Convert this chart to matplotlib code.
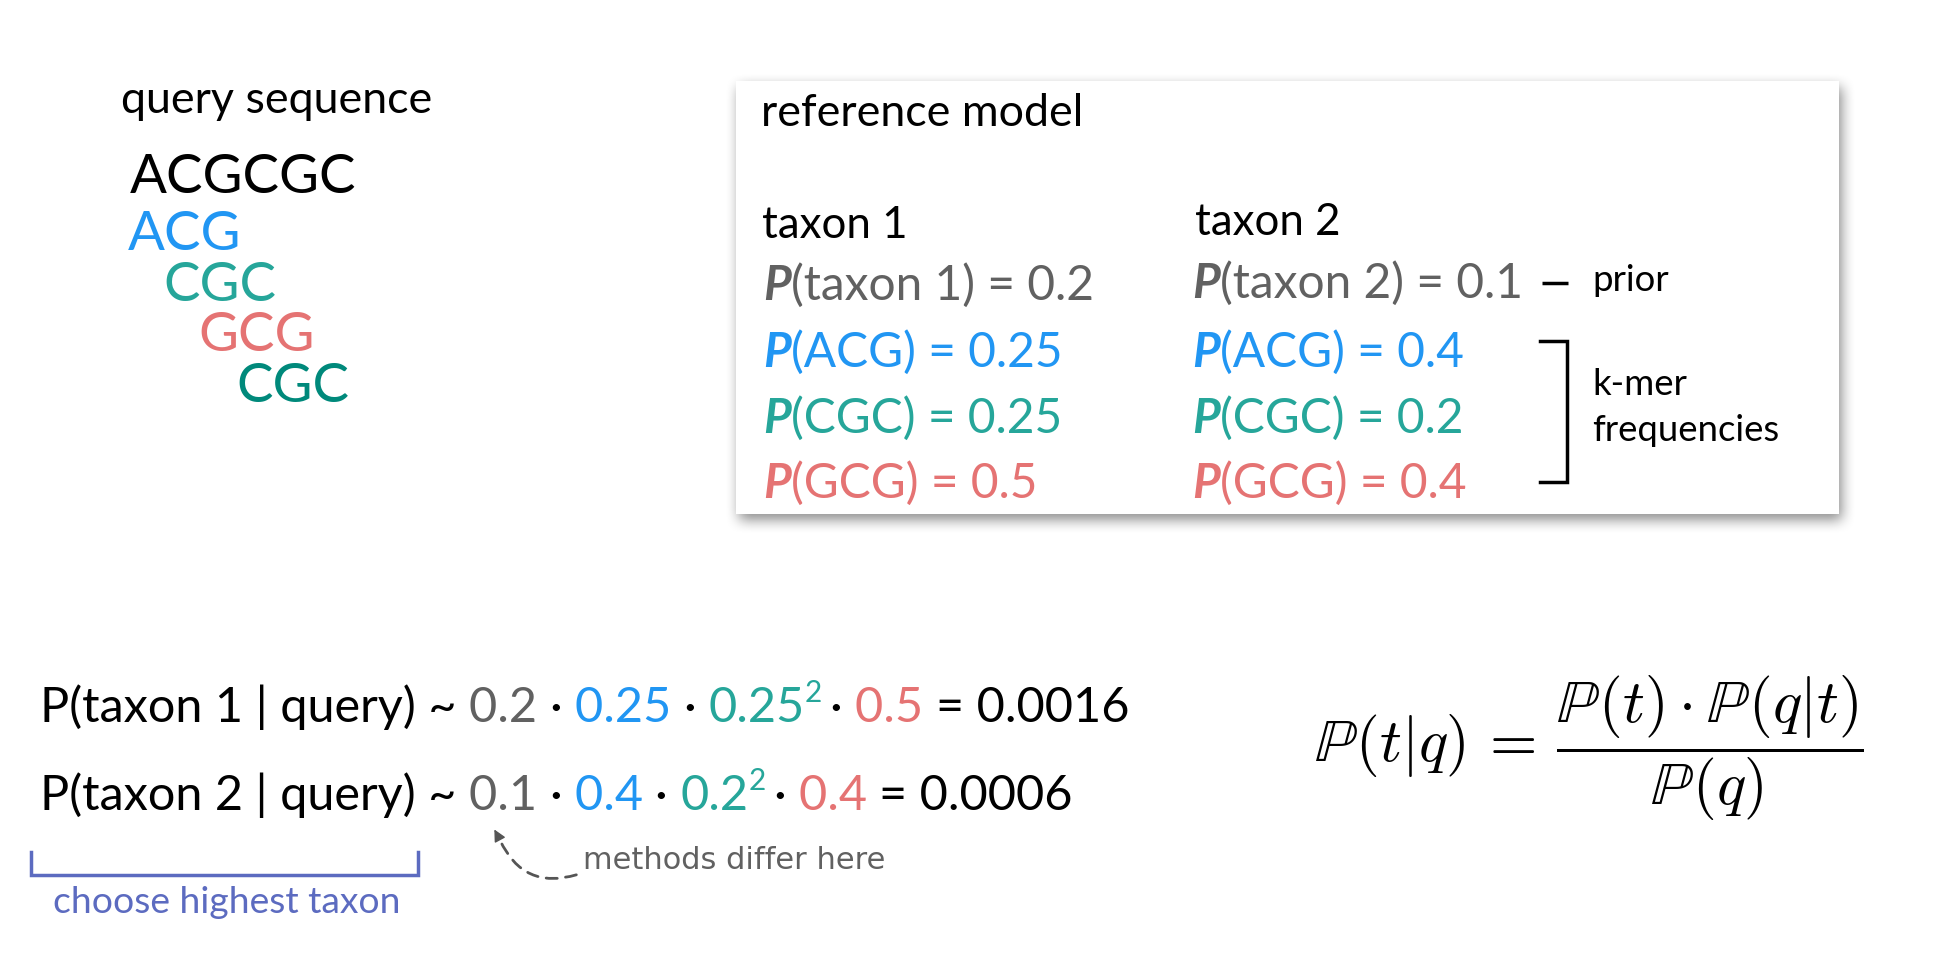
import numpy as np
import matplotlib
matplotlib.use("Agg")
import matplotlib.pyplot as plt
from matplotlib.patches import Rectangle, FancyArrowPatch

# ---------------- data ----------------
query = "ACGCGC"
kmers = ["ACG", "CGC", "GCG", "CGC"]
kmer_names = ["ACG", "CGC", "GCG"]
taxa = ["taxon 1", "taxon 2"]
priors = ["0.2", "0.1"]
freqs = [["0.25", "0.25", "0.5"], ["0.4", "0.2", "0.4"]]
posteriors = ["0.0016", "0.0006"]
cgc_power = "2"

# ---------------- style ----------------
W, H = 1935, 968
BLACK = "#000000"
GRAY = "#616161"
BLUE = "#2196F3"
TEAL = "#26A69A"
RED = "#E57373"
DTEAL = "#00897B"
PURPLE = "#5C6BC0"
kmer_colors = [BLUE, TEAL, RED, DTEAL]
freq_colors = [BLUE, TEAL, RED]

plt.rcParams["font.family"] = ["Lato", "DejaVu Sans"]
plt.rcParams["mathtext.fontset"] = "cm"

fig = plt.figure(figsize=(W / 100, H / 100), dpi=100)
fig.patch.set_facecolor("white")
ax = fig.add_axes([0, 0, 1, 1])
ax.set_xlim(0, W)
ax.set_ylim(H, 0)
ax.axis("off")
renderer = fig.canvas.get_renderer()


def txt(x, y, s, size, color=BLACK, **kw):
    return ax.text(x, y, s, fontsize=size, color=color, ha="left",
                   va="baseline", zorder=5, **kw)


def adv(s, size, **kw):
    t1 = ax.text(0, 0, s + "I", fontsize=size, **kw)
    t2 = ax.text(0, 0, "I", fontsize=size, **kw)
    w = t1.get_window_extent(renderer).width - t2.get_window_extent(renderer).width
    t1.remove()
    t2.remove()
    return w


def chain(x, y, segs):
    for s, size, color, dy, kw in segs:
        txt(x, y - dy, s, size, color, **kw)
        x += adv(s, size, **kw)
    return x


# ---------------- query sequence ----------------
txt(121, 113, "query sequence", 32.2)
QS = 39.3
txt(130, 193, query, QS)
for i, (k, c) in enumerate(zip(kmers, kmer_colors)):
    x = 128 + (0.955 * adv(query[:i], QS) if i > 0 else 0)
    txt(x, 250 + i * 50.7, k, QS, c)

# ---------------- reference model box ----------------
bx0, by0, bx1, by1 = 736, 81, 1839, 514
sh = np.zeros((H, W))
sh[by0 + 6:by1 + 6, bx0 + 3:bx1 + 3] = 1.0


def blur(a, r, axis):
    k = np.ones(2 * r + 1) / (2 * r + 1)
    return np.apply_along_axis(lambda v: np.convolve(v, k, mode="same"), axis, a)


for _ in range(2):
    sh = blur(sh, 7, 0)
    sh = blur(sh, 7, 1)
rgba = np.zeros((H, W, 4))
rgba[..., 3] = sh * 0.45
ax.imshow(rgba, extent=(0, W, H, 0), zorder=1, aspect="auto")
ax.set_xlim(0, W)
ax.set_ylim(H, 0)
ax.add_patch(Rectangle((bx0, by0), bx1 - bx0, by1 - by0, facecolor="white",
                       edgecolor="none", zorder=2))

txt(761, 126, "reference model", 32.2)
col_x = [763, 1192]
head_y = [238, 235]
head_x = [762, 1195]
row_y = [300, 367, 433, 498]
PSIZE = 34.5
pkw = dict(style="italic", fontweight="bold")
for j in range(2):
    txt(head_x[j], head_y[j], taxa[j], 31.6)
    chain(col_x[j], row_y[0] - (2 if j else 0),
          [("P", PSIZE, GRAY, 0, pkw),
           (f"({taxa[j]}) = {priors[j]}", PSIZE, GRAY, 0, {})])
    for r in range(3):
        chain(col_x[j], row_y[r + 1],
              [("P", PSIZE, freq_colors[r], 0, pkw),
               (f"({kmer_names[r]}) = {freqs[j][r]}", PSIZE, freq_colors[r], 0, {})])

# prior dash + label
ax.plot([1542, 1568], [283, 283], color=BLACK, lw=2.5, solid_capstyle="butt", zorder=5)
txt(1592, 291, "prior", 26.3)
# k-mer bracket
ax.plot([1540, 1567, 1567, 1540], [341, 341, 482, 482], color=BLACK, lw=2.5,
        solid_joinstyle="miter", zorder=5)
txt(1592, 395, "k-mer", 26.3)
txt(1592, 441, "frequencies", 26.3)

# ---------------- posterior lines ----------------
LS = 35
SUP = 21.5
line_y = [722, 810]
for j in range(2):
    segs = [
        (f"P({taxa[j]} | query) ~ ", LS, BLACK, 0, {}),
        (priors[j] + " ", LS, GRAY, 0, {}),
        ("· ", LS, BLACK, 0, {}),
        (freqs[j][0] + " ", LS, BLUE, 0, {}),
        ("· ", LS, BLACK, 0, {}),
        (freqs[j][1], LS, TEAL, 0, {}),
        (cgc_power + " ", SUP, TEAL, 20, {}),
        ("· ", LS, BLACK, 0, {}),
        (freqs[j][2] + " ", LS, RED, 0, {}),
        ("= " + posteriors[j], LS, BLACK, 0, {}),
    ]
    chain(40, line_y[j], segs)

# choose highest taxon bracket
ax.plot([31, 31, 418, 418], [852, 875, 875, 852], color=PURPLE, lw=2.5,
        solid_joinstyle="miter", zorder=5)
txt(53, 913, "choose highest taxon", 26.8, PURPLE)

# methods differ here + dashed arrow
txt(583, 869, "methods differ here", 22, GRAY, family="DejaVu Sans")
ax.add_patch(FancyArrowPatch((579, 874), (499, 838), connectionstyle="arc3,rad=-0.45",
                             arrowstyle="-", linestyle=(0, (4, 3)), lw=2,
                             color="#555555", zorder=5))
ax.add_patch(FancyArrowPatch((500, 840), (493, 827), arrowstyle="-|>",
                             mutation_scale=18, lw=1, color="#555555", zorder=5))

# ---------------- Bayes formula ----------------
ax.text(1314, 748,
        r"$\mathbb{P}(t|q)\, =\, \dfrac{\mathbb{P}(t)\cdot\mathbb{P}(q|t)}{\mathbb{P}(q)}$",
        fontsize=44, color=BLACK, ha="left", va="center", zorder=5)

fig.savefig("out.png", dpi=100, facecolor="white")
